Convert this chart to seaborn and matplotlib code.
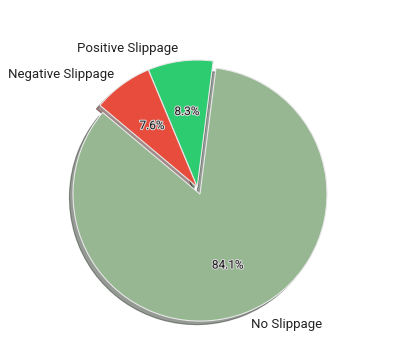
import matplotlib
matplotlib.use("Agg")
import matplotlib.pyplot as plt
import matplotlib.patheffects as pe
import seaborn as sns

sns.set_theme(style="white")
plt.rcParams['font.family'] = ['Roboto', 'DejaVu Sans']

labels = ["No Slippage", "Positive Slippage", "Negative Slippage"]
values = [84.1, 8.3, 7.6]
colors = ["#96b792", "#2ecc71", "#e74c3c"]
explode = [0.06, 0, 0]

fig = plt.figure(figsize=(4.0, 3.41), dpi=100)
ax = fig.add_axes([0.096, -0.0139, 0.794, 0.931])
wedges, texts, autotexts = ax.pie(
    values, labels=labels, colors=colors, explode=explode,
    autopct="%1.1f%%", startangle=140, shadow=True,
    wedgeprops={"edgecolor": "#e8e8e8", "linewidth": 0.8},
    textprops={"fontsize": 9.5, "color": "#222222"},
)
for t in autotexts:
    t.set_fontsize(8.5)
    t.set_color("#1a1a1a")
    t.set_path_effects([pe.withStroke(linewidth=1.5, foreground="#d8d8d8")])
ax.set_aspect("equal")
fig.savefig("out.png", dpi=100)
